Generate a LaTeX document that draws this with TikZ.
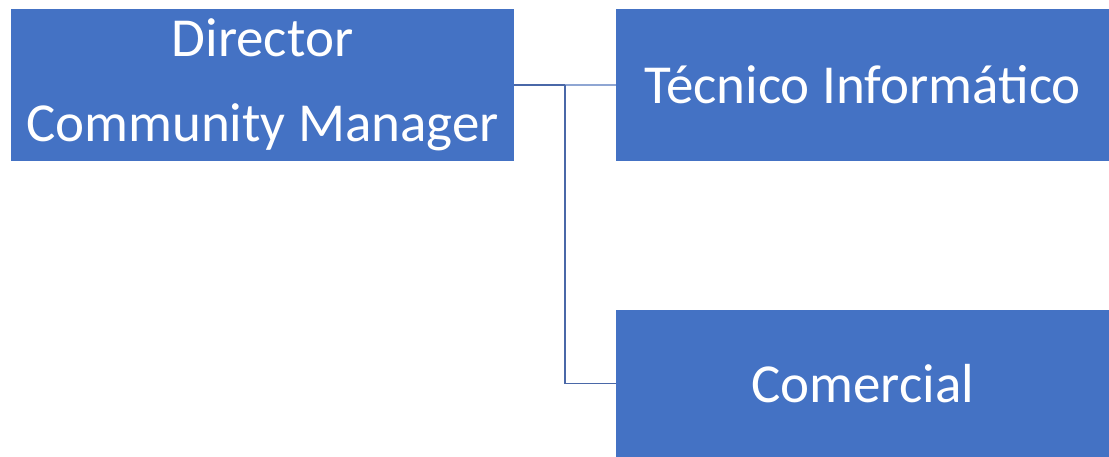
\documentclass[tikz,border=0pt]{standalone}
\usepackage{fontspec}
\setmainfont{Carlito}
\definecolor{boxblue}{HTML}{4472C4}
\definecolor{lineblue}{HTML}{4A68A8}
\definecolor{lightline}{HTML}{8FA6D3}

\begin{document}
\begin{tikzpicture}[x=1pt,y=1pt,
    box/.style={fill=boxblue, draw=none, text=white, align=center, inner sep=0pt, font=\fontsize{55}{85}\selectfont}]
\useasboundingbox (0,0) rectangle (1109,457);
\node[box, minimum width=503pt, minimum height=152pt] (director) at (262.5,372) {Director\\Community Manager};
\node[box, minimum width=493pt, minimum height=152pt] (tecnico) at (862.5,372) {Técnico Informático};
\node[box, minimum width=493pt, minimum height=147pt] (comercial) at (862.5,73.5) {Comercial};
\coordinate (split) at (565,372);
\draw[lineblue, line width=1.5pt] (director.east) -- (split);
\draw[lightline, line width=1.5pt] (split) -- (tecnico.west);
\draw[lineblue, line width=1.2pt] (split) |- (comercial.west);
\end{tikzpicture}
\end{document}
